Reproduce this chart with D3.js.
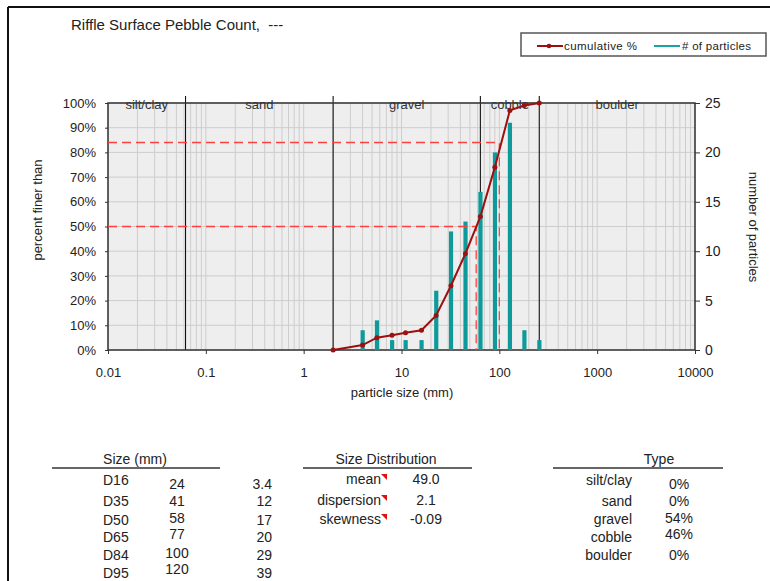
<!DOCTYPE html>
<html><head><meta charset="utf-8">
<script src="https://cdn.jsdelivr.net/npm/d3@7"></script>
<style>
html,body{margin:0;padding:0;background:#fff;}
svg{display:block;font-family:"Liberation Sans",Arial,sans-serif;}
</style></head>
<body>
<svg id="c" width="770" height="581"></svg>
<script>
// ---- data ----
const sizes      = [2, 4, 5.6, 8, 11, 16, 22.6, 32, 45, 64, 90, 128, 180, 256];
const counts     = [0, 2, 3, 1, 1, 1, 6, 12, 13, 16, 20, 23, 2, 1];
const cumulative = [0, 2, 5, 6, 7, 8, 14, 26, 39, 54, 74, 97, 99, 100];
const boundaries = [0.062, 2, 64, 256];
const classNames = ["silt/clay", "sand", "gravel", "cobble", "boulder"];
const classEdges = [0.01, 0.062, 2, 64, 256, 10000];
const xTicks = [0.01, 0.1, 1, 10, 100, 1000, 10000];
const xTickLabels = ["0.01", "0.1", "1", "10", "100", "1000", "10000"];
const leftTicks = [0,0.1,0.2,0.3,0.4,0.5,0.6,0.7,0.8,0.9,1];
const rightTicks = [0,5,10,15,20,25];
const dLabels = ["D16","D35","D50","D65","D84","D95"];
const dSizes = ["24","41","58","77","100","120"];
const dOther = ["3.4","12","17","20","29","39"];
const distLabels = ["mean","dispersion","skewness"];
const distValues = ["49.0","2.1","-0.09"];
const typeLabels = ["silt/clay","sand","gravel","cobble","boulder"];
const typeValues = ["0%","0%","54%","46%","0%"];
const d50 = 58, d84 = 100;

const svg = d3.select("#c");
const L=108, R=695, T=103, B=350;
const x = d3.scaleLog().domain([0.01,10000]).range([L,R]);
const yL = d3.scaleLinear().domain([0,1]).range([B,T]);
const yR = d3.scaleLinear().domain([0,25]).range([B,T]);
const txt = "#222";

// outer frame (top + left)
svg.append("line").attr("x1",8).attr("x2",770).attr("y1",7).attr("y2",7).attr("stroke","#111").attr("stroke-width",2);
svg.append("line").attr("x1",8).attr("x2",8).attr("y1",7).attr("y2",581).attr("stroke","#111").attr("stroke-width",2);

// title
svg.append("text").attr("x",71).attr("y",30).attr("font-size",15).attr("fill",txt)
  .style("white-space","pre")
  .text("Riffle Surface Pebble Count,  ---");

// legend
const lg = svg.append("g");
lg.append("rect").attr("x",521).attr("y",33).attr("width",245).attr("height",23)
  .attr("fill","#fff").attr("stroke","#555").attr("stroke-width",1.5);
lg.append("line").attr("x1",537).attr("x2",563).attr("y1",46).attr("y2",46).attr("stroke","#9b1010").attr("stroke-width",2);
lg.append("circle").attr("cx",549).attr("cy",46).attr("r",2.3).attr("fill","#9b1010");
lg.append("text").attr("x",564).attr("y",50).attr("font-size",11.5).attr("fill",txt).attr("textLength",73).text("cumulative %");
lg.append("line").attr("x1",654).attr("x2",680).attr("y1",46).attr("y2",46).attr("stroke","#1aa3a3").attr("stroke-width",2);
lg.append("text").attr("x",682).attr("y",50).attr("font-size",11.5).attr("fill",txt).attr("textLength",69).text("# of particles");

// plot background
svg.append("rect").attr("x",L).attr("y",T).attr("width",R-L).attr("height",B-T).attr("fill","#eeeeee");

// grid
const g = svg.append("g");
g.selectAll("line.v").data(x.ticks()).enter().append("line")
  .attr("x1",d=>x(d)).attr("x2",d=>x(d)).attr("y1",T).attr("y2",B)
  .attr("stroke","#cdcdcd").attr("stroke-width",1);
g.selectAll("line.h").data(leftTicks).enter().append("line")
  .attr("x1",L).attr("x2",R).attr("y1",d=>yL(d)).attr("y2",d=>yL(d))
  .attr("stroke","#cdcdcd").attr("stroke-width",1);

// class boundaries
svg.selectAll("line.b").data(boundaries).enter().append("line")
  .attr("x1",d=>x(d)).attr("x2",d=>x(d)).attr("y1",T-7).attr("y2",B)
  .attr("stroke","#111").attr("stroke-width",1.1);

// plot border
svg.append("rect").attr("x",L).attr("y",T).attr("width",R-L).attr("height",B-T)
  .attr("fill","none").attr("stroke","#333").attr("stroke-width",1.5);

// class labels
svg.selectAll("text.cls").data(classNames).enter().append("text")
  .attr("x",(d,i)=>x(Math.sqrt(classEdges[i]*classEdges[i+1])))
  .attr("y",109).attr("text-anchor","middle").attr("font-size",13).attr("fill","#333")
  .text(d=>d);

// bars
const barData = sizes.map((s,i)=>({s,c:counts[i]})).filter(d=>d.c>0);
svg.selectAll("rect.bar").data(barData).enter().append("rect")
  .attr("x",d=>x(d.s)-2).attr("width",4.2)
  .attr("y",d=>yR(d.c)).attr("height",d=>B-yR(d.c))
  .attr("fill","#0e9a9a");

// dashed reference lines
const dash = svg.append("g").attr("stroke","#ff4040").attr("stroke-width",1.3).attr("stroke-dasharray","9,5").attr("fill","none");
[[0.5,d50],[0.84,d84]].forEach(([p,s])=>{
  dash.append("path").attr("d",`M${L},${yL(p)}H${x(s)}V${B}`);
});

// cumulative line
const pts = sizes.map((s,i)=>[x(s), yL(cumulative[i]/100)]);
svg.append("path").attr("d",d3.line()(pts)).attr("fill","none")
  .attr("stroke","#9b1010").attr("stroke-width",2);
svg.selectAll("circle.pt").data(pts).enter().append("circle")
  .attr("cx",d=>d[0]).attr("cy",d=>d[1]).attr("r",2.5).attr("fill","#9b1010");

// axes
const ax = svg.append("g").attr("font-family","'Liberation Sans',Arial,sans-serif");
const la = ax.append("g").attr("transform",`translate(${L},0)`)
  .call(d3.axisLeft(yL).tickValues(leftTicks).tickFormat(d3.format(".0%")).tickSize(3).tickPadding(9));
const ra = ax.append("g").attr("transform",`translate(${R},0)`)
  .call(d3.axisRight(yR).tickValues(rightTicks).tickSize(5).tickPadding(5));
const ba = ax.append("g").attr("transform",`translate(0,${B})`)
  .call(d3.axisBottom(x).tickValues(xTicks).tickFormat((d,i)=>xTickLabels[i]).tickSize(4).tickPadding(14));
[la,ra,ba].forEach(a=>{
  a.select(".domain").remove();
  a.selectAll(".tick line").attr("stroke","#333");
  a.selectAll("text").attr("fill",txt).attr("font-size",13);
});
ra.selectAll("text").attr("font-size",14);

// axis titles
svg.append("text").attr("transform","translate(42,210) rotate(-90)").attr("text-anchor","middle")
  .attr("font-size",13).attr("fill",txt).text("percent finer than");
svg.append("text").attr("transform","translate(749,227) rotate(90)").attr("text-anchor","middle")
  .attr("font-size",13).attr("fill",txt).text("number of particles");
svg.append("text").attr("x",402).attr("y",397).attr("text-anchor","middle")
  .attr("font-size",13).attr("fill",txt).text("particle size (mm)");

// ---- tables ----
const fs = 14;
function header(label, cx, x1, x2){
  svg.append("text").attr("x",cx).attr("y",464).attr("text-anchor","middle").attr("font-size",fs).attr("fill",txt).text(label);
  svg.append("line").attr("x1",x1).attr("x2",x2).attr("y1",468).attr("y2",468).attr("stroke","#333").attr("stroke-width",1.5);
}
header("Size (mm)",135,52,220);
header("Size Distribution",386,303,472);
header("Type",659,553,723);

const rowY = [485,506,525,542,560,578];
const sizeY = [489,506,523,539,558,574];
svg.selectAll("text.dl").data(dLabels).enter().append("text")
  .attr("x",103).attr("y",(d,i)=>rowY[i]).attr("font-size",fs).attr("fill",txt).text(d=>d);
svg.selectAll("text.ds").data(dSizes).enter().append("text")
  .attr("x",177).attr("y",(d,i)=>sizeY[i]).attr("text-anchor","middle").attr("font-size",fs).attr("fill",txt).text(d=>d);
svg.selectAll("text.do").data(dOther).enter().append("text")
  .attr("x",272).attr("y",(d,i)=>rowY[i]+ (i===0?4:0)).attr("text-anchor","end").attr("font-size",fs).attr("fill",txt).text(d=>d);

const distY = [484,505,524];
svg.selectAll("text.dsl").data(distLabels).enter().append("text")
  .attr("x",381).attr("y",(d,i)=>distY[i]).attr("text-anchor","end").attr("font-size",fs).attr("fill",txt).text(d=>d);
svg.selectAll("path.tri").data(distLabels).enter().append("path")
  .attr("d",(d,i)=>`M${381},${distY[i]-10}h6v6z`).attr("fill","#e01010");
svg.selectAll("text.dsv").data(distValues).enter().append("text")
  .attr("x",426).attr("y",(d,i)=>distY[i]).attr("text-anchor","middle").attr("font-size",fs).attr("fill",txt).text(d=>d);

const typeY = [485,506,524,542,560];
const typeVY = [489,506,523,539,560];
svg.selectAll("text.tl").data(typeLabels).enter().append("text")
  .attr("x",632).attr("y",(d,i)=>typeY[i]).attr("text-anchor","end").attr("font-size",fs).attr("fill",txt).text(d=>d);
svg.selectAll("text.tv").data(typeValues).enter().append("text")
  .attr("x",679).attr("y",(d,i)=>typeVY[i]).attr("text-anchor","middle").attr("font-size",fs).attr("fill",txt).text(d=>d);
</script>
</body></html>
